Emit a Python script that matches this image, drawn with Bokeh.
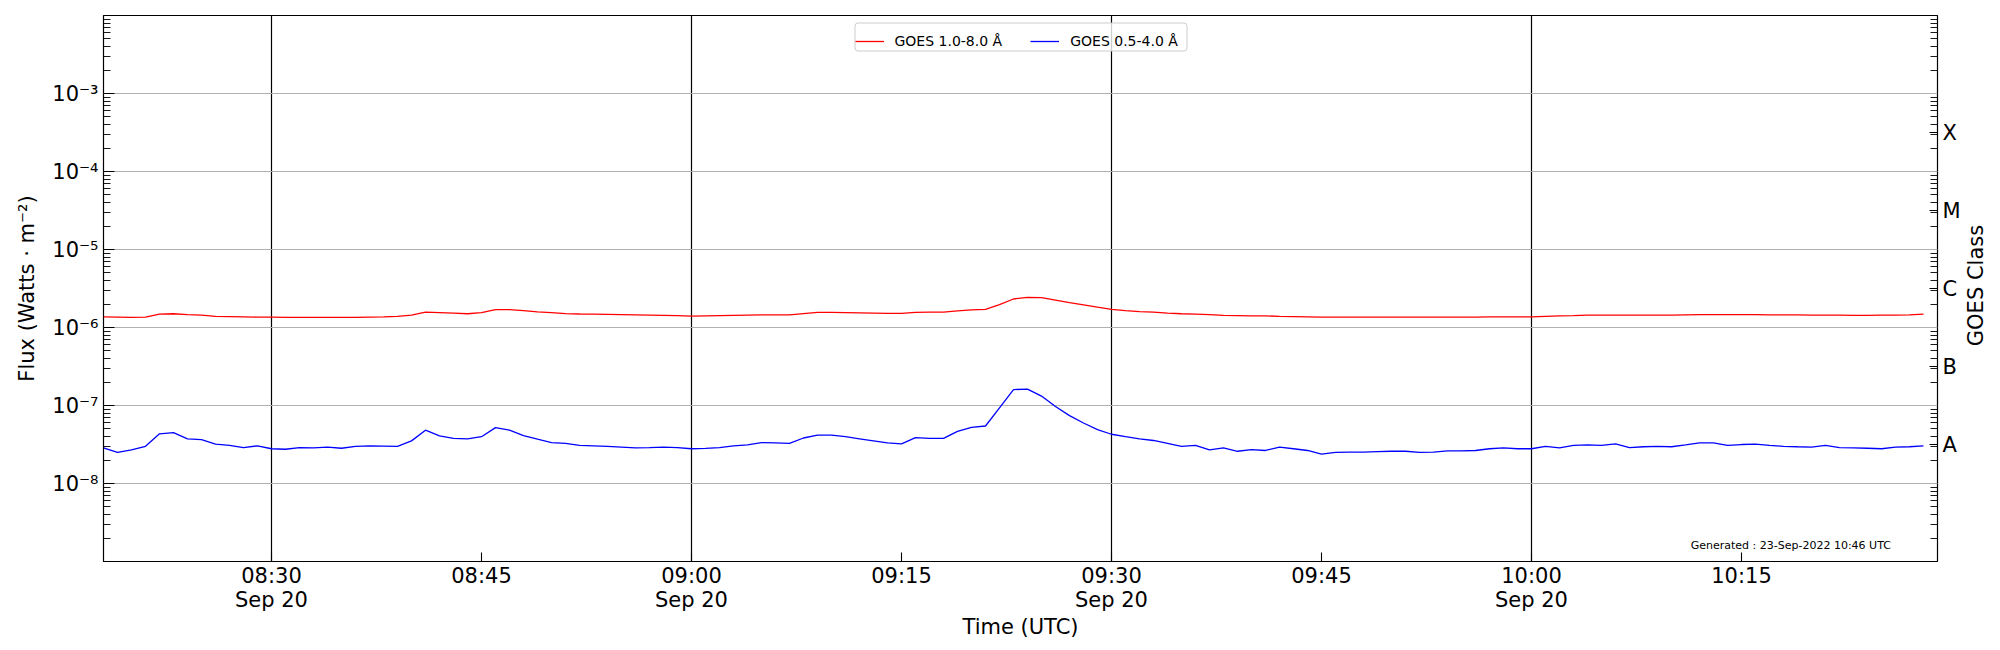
import math
import datetime as dt
from bokeh.plotting import figure
from bokeh.layouts import row
from bokeh.models import LogAxis, FixedTicker, Range1d, Legend, LegendItem, Label, BoxAnnotation
from bokeh.embed import file_html
from bokeh.resources import INLINE

# ---------------- data ----------------
start_time = dt.datetime(2022, 9, 20, 8, 18)
n_points = 131  # one-minute GOES averages, 08:18 .. 10:28
times = [start_time + dt.timedelta(minutes=i) for i in range(n_points)]

# GOES 1.0-8.0 A (W m^-2), x1e-6
xrsb_e6 = [1.37, 1.36, 1.35, 1.36, 1.48, 1.50, 1.46, 1.44, 1.39, 1.38, 1.37, 1.36,
           1.36, 1.35, 1.35, 1.35, 1.35, 1.35, 1.35, 1.36, 1.37, 1.39,
           1.44, 1.57, 1.55, 1.53, 1.50, 1.55, 1.69, 1.70, 1.65, 1.59,
           1.55, 1.51, 1.49, 1.48, 1.47, 1.46, 1.45, 1.44, 1.43, 1.42,
           1.40, 1.41, 1.42, 1.43, 1.44, 1.45, 1.45, 1.45, 1.51, 1.56,
           1.56, 1.55, 1.54, 1.53, 1.52, 1.52, 1.56, 1.57, 1.57, 1.63,
           1.68, 1.71, 1.96, 2.32, 2.44, 2.41, 2.24, 2.08, 1.95, 1.82,
           1.71, 1.65, 1.60, 1.57, 1.53, 1.50, 1.48, 1.46, 1.43, 1.42,
           1.41, 1.41, 1.39, 1.38, 1.37, 1.36, 1.36, 1.36, 1.36, 1.36,
           1.36, 1.36, 1.36, 1.36, 1.36, 1.36, 1.36, 1.37, 1.37, 1.37,
           1.37, 1.39, 1.41, 1.42, 1.44, 1.44, 1.44, 1.44, 1.44, 1.44,
           1.44, 1.45, 1.46, 1.46, 1.46, 1.46, 1.46, 1.45, 1.45, 1.45,
           1.44, 1.44, 1.44, 1.43, 1.43, 1.44, 1.44, 1.45, 1.48]

# GOES 0.5-4.0 A (W m^-2), x1e-8
xrsa_e8 = [2.86, 2.50, 2.69, 3.00, 4.33, 4.50, 3.74, 3.65, 3.19, 3.08, 2.89, 3.04,
           2.79, 2.75, 2.89, 2.86, 2.93, 2.83, 3.00, 3.04, 3.02, 3.00,
           3.52, 4.83, 4.07, 3.79, 3.74, 3.98, 5.20, 4.83, 4.12, 3.70,
           3.35, 3.27, 3.08, 3.04, 3.00, 2.93, 2.86, 2.89, 2.93, 2.89,
           2.79, 2.82, 2.89, 3.04, 3.12, 3.35, 3.31, 3.27, 3.83, 4.17,
           4.17, 3.98, 3.74, 3.52, 3.31, 3.23, 3.88, 3.79, 3.79, 4.66,
           5.25, 5.46, 9.35, 16.0, 16.2, 13.2, 9.70, 7.41, 5.96, 4.90,
           4.28, 3.98, 3.74, 3.56, 3.27, 3.00, 3.08, 2.69, 2.86, 2.59,
           2.72, 2.65, 2.93, 2.79, 2.65, 2.38, 2.50, 2.53, 2.53, 2.56,
           2.59, 2.59, 2.50, 2.53, 2.62, 2.62, 2.65, 2.79, 2.86, 2.79,
           2.79, 3.00, 2.86, 3.08, 3.12, 3.08, 3.23, 2.89, 2.96, 3.00,
           2.96, 3.12, 3.31, 3.31, 3.08, 3.16, 3.19, 3.08, 3.00, 2.96,
           2.93, 3.08, 2.89, 2.86, 2.83, 2.79, 2.93, 2.96, 3.04]

xrsb = [v * 1e-6 for v in xrsb_e6]
xrsa = [v * 1e-8 for v in xrsa_e8]

series_labels = ["GOES 1.0-8.0 Å", "GOES 0.5-4.0 Å"]
series_colors = ["red", "blue"]

y_tick_values = [1e-8, 1e-7, 1e-6, 1e-5, 1e-4, 1e-3]
y_tick_labels = ["10⁻⁸", "10⁻⁷", "10⁻⁶", "10⁻⁵", "10⁻⁴", "10⁻³"]
class_labels = ["A", "B", "C", "M", "X"]
class_exponents = [-7.5, -6.5, -5.5, -4.5, -3.5]
class_axis_title = "GOES Class"

x_tick_times = [dt.datetime(2022, 9, 20, h, m) for h, m in
                [(8, 30), (8, 45), (9, 0), (9, 15), (9, 30), (9, 45), (10, 0), (10, 15)]]
x_tick_labels = ["08:30\nSep 20", "08:45", "09:00\nSep 20", "09:15",
                 "09:30\nSep 20", "09:45", "10:00\nSep 20", "10:15"]
x_start = dt.datetime(2022, 9, 20, 8, 18)
x_end = dt.datetime(2022, 9, 20, 10, 29)
y_start, y_end = 1e-9, 1e-2
generated_text = "Generated : 23-Sep-2022 10:46 UTC"

# ---------------- helpers ----------------
EPOCH = dt.datetime(1970, 1, 1)


def ms(t):
    return (t - EPOCH).total_seconds() * 1000.0


t_ms = [ms(t) for t in times]
x_tick_ms = [ms(t) for t in x_tick_times]
grid_ms = [ms(t) for t, lab in zip(x_tick_times, x_tick_labels) if "\n" in lab]
minor_log = [m * 10.0 ** k for k in range(-9, -2) for m in range(2, 10)]
class_values = [10.0 ** e for e in class_exponents]

FONT = "DejaVu Sans"
FRAME_W, FRAME_H = 1834, 546
B_LEFT, B_RIGHT, B_TOP, B_BOTTOM = 103, 24, 15, 80
TOTAL_H = B_TOP + FRAME_H + B_BOTTOM
SIDE_W = 36

p = figure(frame_width=FRAME_W, frame_height=FRAME_H, x_axis_type="datetime", y_axis_type="log",
           x_range=Range1d(ms(x_start), ms(x_end)), y_range=Range1d(y_start, y_end),
           output_backend="svg", toolbar_location=None,
           min_border_left=B_LEFT, min_border_right=B_RIGHT,
           min_border_top=B_TOP, min_border_bottom=B_BOTTOM)
p.background_fill_color = "white"
p.border_fill_color = "white"
p.outline_line_color = "black"
p.outline_line_width = 1.2
p.outline_line_alpha = 1.0

r1 = p.line(t_ms, xrsb, line_color=series_colors[0], line_width=1.3)
r2 = p.line(t_ms, xrsa, line_color=series_colors[1], line_width=1.3)

# grids
p.ygrid.ticker = FixedTicker(ticks=y_tick_values)
p.ygrid.grid_line_color = "#b0b0b0"
p.ygrid.grid_line_width = 1
p.xgrid.ticker = FixedTicker(ticks=grid_ms)
p.xgrid.grid_line_color = "black"
p.xgrid.grid_line_width = 1.2
p.xgrid.grid_line_alpha = 1.0

# left axis
ya = p.yaxis[0]
ya.ticker = FixedTicker(ticks=[1e-9] + y_tick_values + [1e-2], minor_ticks=minor_log)
overrides = {v: lab for v, lab in zip(y_tick_values, y_tick_labels)}
overrides[1e-9] = ""
overrides[1e-2] = ""
ya.major_label_overrides = overrides
ya.axis_label = "Flux (Watts · m⁻²)"

# right axis (class letters); its title is drawn in a slim side panel
ra = LogAxis(ticker=FixedTicker(ticks=class_values, minor_ticks=minor_log),
             major_label_overrides={v: lab for v, lab in zip(class_values, class_labels)})
p.add_layout(ra, "right")

xa = p.xaxis[0]
xa.ticker = FixedTicker(ticks=x_tick_ms)
xa.major_label_overrides = {v: lab for v, lab in zip(x_tick_ms, x_tick_labels)}
xa.axis_label = "Time (UTC)"

for ax in (ya, ra, xa):
    ax.axis_line_color = None
    ax.major_label_text_font = FONT
    ax.major_label_text_font_size = "21px"
    ax.major_label_text_color = "black"
    ax.axis_label_text_font = FONT
    ax.axis_label_text_font_size = "21px"
    ax.axis_label_text_font_style = "normal"
    ax.axis_label_text_color = "black"
    ax.major_tick_out = 0
    ax.minor_tick_out = 0
    ax.major_tick_line_color = "black"
    ax.minor_tick_line_color = "black"
    ax.major_tick_line_width = 1.1
    ax.minor_tick_line_width = 0.9

ya.major_tick_in = 11
ya.minor_tick_in = 7
ya.major_label_standoff = 5
ya.axis_label_standoff = 10

ra.major_tick_in = 8
ra.minor_tick_in = 7
ra.major_label_standoff = 5

xa.major_tick_in = 9
xa.minor_tick_in = 0
xa.major_label_standoff = 2
xa.major_label_text_line_height = 1.0
xa.axis_label_standoff = 0

# legend box (matplotlib style: light grey rounded frame, translucent white)
box = BoxAnnotation(left=751.5, right=1083.5, top=538.5, bottom=510.5,
                    left_units="screen", right_units="screen",
                    top_units="screen", bottom_units="screen",
                    fill_color="white", fill_alpha=0.8,
                    line_color="#cccccc", line_width=1, line_alpha=1.0,
                    level="annotation")
try:
    box.border_radius = 3
except Exception:
    pass
p.add_layout(box)

legend = Legend(items=[LegendItem(label=series_labels[0], renderers=[r1]),
                       LegendItem(label=series_labels[1], renderers=[r2])],
                location=(751.5, 510.5), orientation="horizontal")
legend.label_text_font = FONT
legend.label_text_font_size = "14px"
legend.label_text_color = "black"
legend.glyph_width = 29
legend.glyph_height = 20
legend.label_height = 20
legend.label_standoff = 11
legend.spacing = 28
legend.padding = 4
legend.margin = 0
legend.border_line_color = None
legend.background_fill_alpha = 0.0
p.add_layout(legend, "center")

gen_x = ms(x_start) + 0.92 * (ms(x_end) - ms(x_start))
gen_y = 10.0 ** (-9 + 0.029 * 7)
p.add_layout(Label(x=gen_x, y=gen_y, text=generated_text, text_font=FONT,
                   text_font_size="11px", text_align="center", text_baseline="middle",
                   text_color="black"))

# slim side panel holding the right-hand axis title, reading bottom-to-top
side = figure(width=SIDE_W, height=TOTAL_H, x_range=Range1d(0, SIDE_W), y_range=Range1d(0, TOTAL_H),
              output_backend="svg", toolbar_location=None,
              x_axis_location=None, y_axis_location=None,
              min_border_left=0, min_border_right=0, min_border_top=0, min_border_bottom=0)
side.outline_line_color = None
side.grid.visible = False
side.background_fill_color = "white"
side.border_fill_color = "white"
side.add_layout(Label(x=12, y=B_BOTTOM + FRAME_H / 2 - 29, text=class_axis_title, angle=math.pi / 2,
                      text_font=FONT, text_font_size="21px", text_align="center",
                      text_baseline="middle", text_color="black"))

layout = row(p, side, spacing=0)
open("out.html", "w").write(file_html(layout, INLINE))
